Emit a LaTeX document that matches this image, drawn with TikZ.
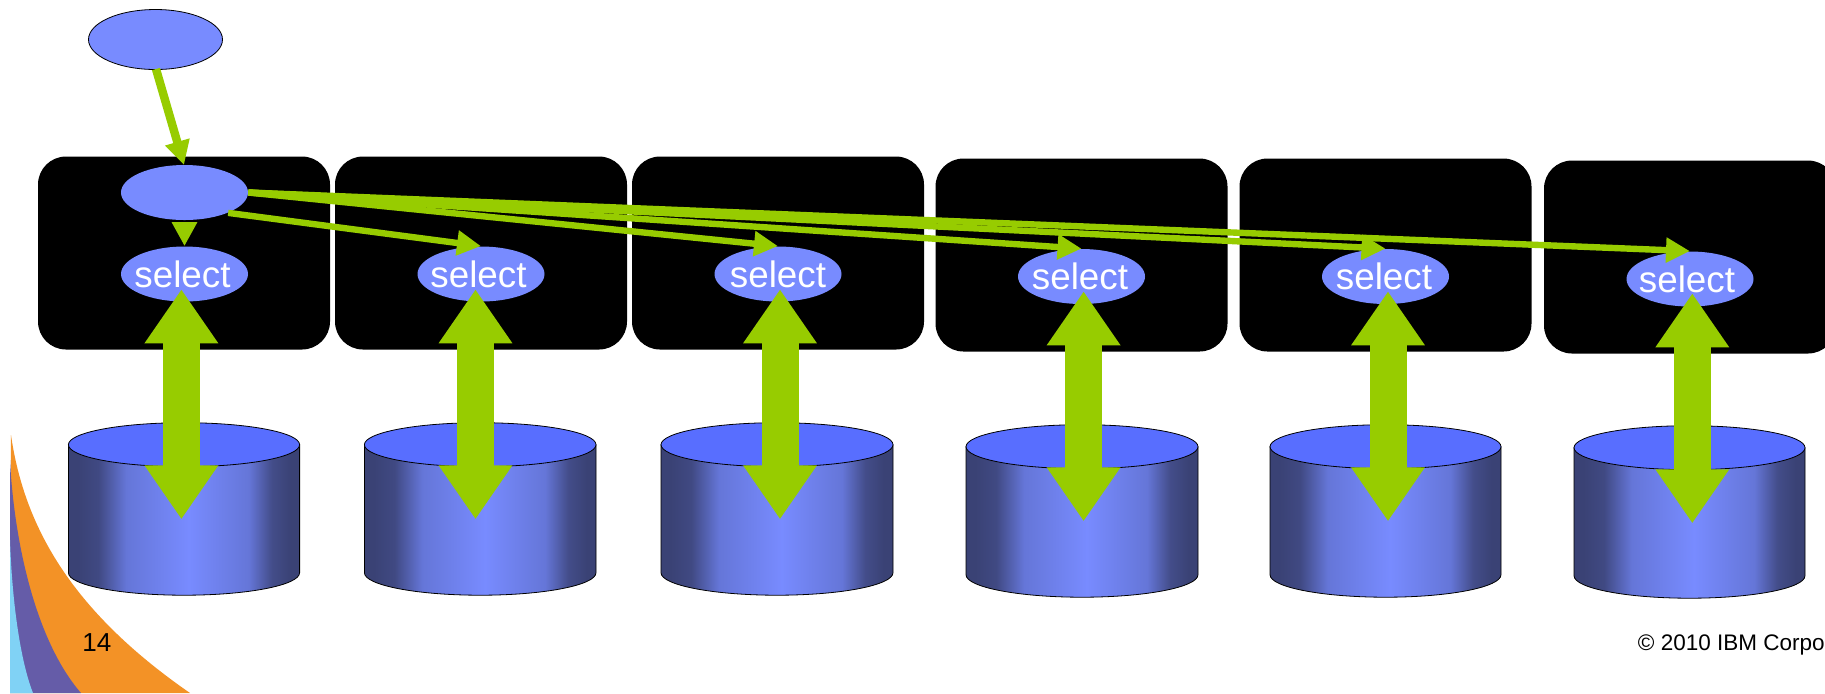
\documentclass[tikz,border=0pt]{standalone}
\usepackage{fontspec}
\setmainfont{Liberation Sans}
\usetikzlibrary{arrows.meta,shapes.geometric}
\definecolor{grn}{HTML}{97CC00}
\definecolor{ell}{HTML}{788BFF}
\definecolor{ctop}{HTML}{586EFF}
\definecolor{cdark}{HTML}{3A4275}
\definecolor{cmid}{HTML}{6576D8}
\definecolor{swo}{HTML}{F39226}
\definecolor{swp}{HTML}{655CA8}
\definecolor{swb}{HTML}{80D2F5}
\pgfdeclarehorizontalshading{cylshade}{100bp}{color(0bp)=(cdark);color(27bp)=(cdark);color(31.5bp)=(cdark!90!ell);color(37.5bp)=(cmid);color(51bp)=(ell);color(64bp)=(cmid);color(69bp)=(cdark!85!ell);color(73bp)=(cdark);color(100bp)=(cdark)}
\tikzset{
  server/.style={fill=black,rounded corners=14pt,minimum width=146pt,minimum height=96.5pt,inner sep=0pt,draw=none},
  oval/.style={ellipse,fill=ell,minimum width=63.5pt,minimum height=27.5pt,inner sep=0pt,text=white,font=\fontsize{18.4}{20}\selectfont},
  thin arrow/.style={draw=grn,line width=3.2pt,-{Triangle[length=12pt,width=12pt]}},
  big arrow/.style={draw=grn,line width=18.5pt,{Triangle[length=27pt,width=35pt]}-{Triangle[length=27pt,width=35pt]}},
  cylside/.style={shading=cylshade,draw=black,line width=0.4pt},
  cyltop/.style={fill=ctop,draw=black,line width=0.4pt},
  label text/.style={inner sep=0pt,text=black}
}
\begin{document}
\begin{tikzpicture}[x=0.5pt,y=-0.5pt]
\clip (0,0) rectangle (1825,693);
\fill[white] (0,0) rectangle (1825,693);
% swoosh
\fill[swo] (11,435) .. controls (24,525) and (70,610) .. (190,693) -- (10,693) -- cycle;
\fill[swp] (10,460) .. controls (14,540) and (35,640) .. (81,693) -- (10,693) -- cycle;
\fill[swb] (10,540) .. controls (12,600) and (20,660) .. (33,693) -- (10,693) -- cycle;
% servers
\foreach \n/\x/\y in {1/184/253,2/481/253,3/778/253,4/1081.5/255,5/1385.5/255,6/1690/257}
  \node[server] (b\n) at (\x,\y) {};
% cylinders
\foreach \n/\l/\r/\d in {1/68.4/299.6/0,2/364.4/596/0,3/661/893/0,4/966/1198/2,5/1270/1501/2,6/1574/1805/3}{
  \path[cylside] (\l,444.7+\d) -- (\l,572.7+\d) arc[start angle=180,end angle=0,x radius={(\r-\l)/2},y radius=22.5] -- (\r,444.7+\d) -- cycle;
  \draw[cyltop] ({(\l+\r)/2},444.7+\d) ellipse [x radius={(\r-\l)/2},y radius=22];
}
% ovals
\node[oval,draw=black,line width=0.4pt,minimum width=67pt,minimum height=30pt] (top) at (155.5,39.5) {};
\node[oval] (up) at (184.5,192.5) {};
\foreach \n/\x/\y/\k in {1/184.5/274/2pt,2/481/274/2.5pt,3/778/274/0pt,4/1081.5/276.5/1.5pt,5/1385.5/276.5/1.5pt,6/1690/279/3pt}
  \node[oval] (s\n) at (\x,\y) {\makebox[0pt]{select\hspace{\k}}};
% big double arrows
\foreach \n/\x/\d in {1/181.4/0,2/475.5/0,3/780/0,4/1083.6/2,5/1388/2,6/1692.3/4}{
  \coordinate (at\n) at (\x,289.3+\d);
  \coordinate (ab\n) at (\x,519.3+\d);
  \draw[big arrow] (at\n) -- (ab\n);
}
% thin arrows
\coordinate (c1) at (184,165);
\coordinate (c0) at (156,69);
\draw[thin arrow,line width=4.2pt] (c0) -- (c1);
\coordinate (d1) at (184.5,222);
\draw[thin arrow] (d1) -- (s1.north);
\draw[thin arrow] (up.-25) -- (s2.north);
\foreach \n in {3,4,5,6}
  \draw[thin arrow] (up.east) -- (s\n.north);
% labels
\node[label text,font=\fontsize{13}{15}\selectfont,anchor=base west] (pg) at (82,651) {14};
\node[label text,font=\fontsize{11.25}{13}\selectfont,anchor=base east] (cr) at (1825,650) {© 2010 IBM Corpo};
\end{tikzpicture}
\end{document}
